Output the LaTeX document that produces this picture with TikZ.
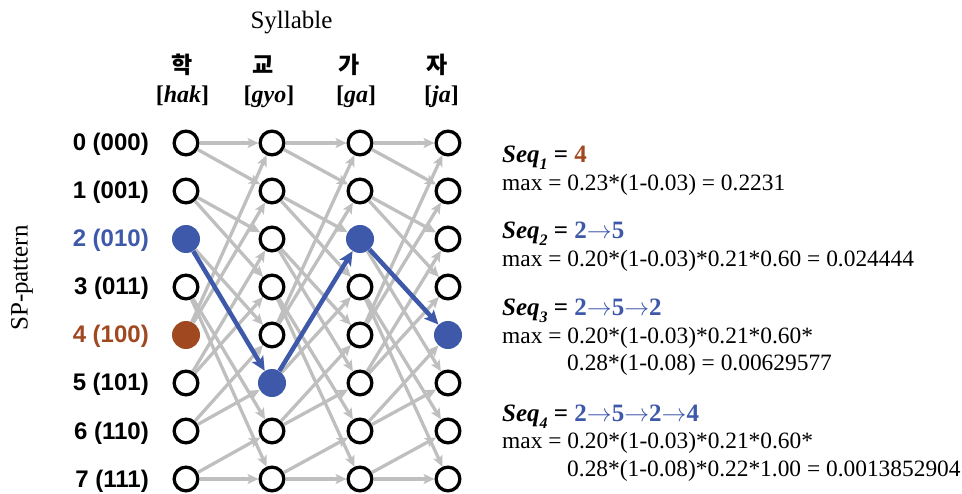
\documentclass[tikz,border=0pt]{standalone}
\usepackage{fontspec}
\setmainfont{Liberation Serif}
\setsansfont{Liberation Sans}
\newfontfamily\krfont{Noto Sans CJK KR}
\usetikzlibrary{arrows.meta}

\definecolor{pathblue}{RGB}{62,88,170}
\definecolor{startbrown}{RGB}{160,72,32}
\definecolor{edgegray}{RGB}{191,191,191}

\newcommand\fs[1]{\fontsize{#1}{#1}\selectfont}
% "Seq_k = ..." heading of each block
\newcommand\seqhead[2]{{\fs{25}\bfseries\itshape Seq\raisebox{-0.28em}{\fs{16}#1}}{\fs{25}\bfseries\ =\ #2}}
\newcommand\nxt{\ensuremath{\rightarrow}}

\tikzset{
  opendot/.style={circle, draw=black, line width=3.3pt, fill=white, minimum size=23.7pt, inner sep=0pt},
  bluedot/.style={circle, fill=pathblue, minimum size=28pt, inner sep=0pt},
  browndot/.style={circle, fill=startbrown, minimum size=28pt, inner sep=0pt},
  grayedge/.style={draw=edgegray, line width=3.3pt, -{Stealth[length=11pt,width=10pt,inset=2.5pt]}},
  blueedge/.style={draw=pathblue, line width=4.5pt, -{Stealth[length=14pt,width=13pt,inset=3pt]}},
  rowlab/.style={anchor=base east, font=\sffamily\bfseries\fs{24}, inner sep=0pt},
  korean/.style={anchor=center, font=\krfont\bfseries\fs{23}, inner sep=0pt},
  roman/.style={anchor=base, font=\fs{24}\bfseries, inner sep=0pt},
  plaintext/.style={anchor=base west, font=\fs{23.4}, inner sep=0pt},
  headtext/.style={anchor=base west, inner sep=0pt},
}

\begin{document}
\begin{tikzpicture}[x=1pt, y=-1pt]
\useasboundingbox (0,0) rectangle (962,494);

% trellis states: column c (syllable), row i (SP-pattern)
\foreach \c/\x in {1/186,2/272,3/360,4/448}{
  \foreach \i in {0,...,7}{
    \pgfmathtruncatemacro\kind{((\c==1&&\i==2)||(\c==2&&\i==5)||(\c==3&&\i==2)||(\c==4&&\i==4)) ? 1 : ((\c==1&&\i==4) ? 2 : 0)}
    \ifcase\kind
      \node[opendot] (n\c\i) at (\x,{143+48*\i}) {};
    \or
      \node[bluedot] (n\c\i) at (\x,{143+48*\i}) {};
    \or
      \node[browndot] (n\c\i) at (\x,{143+48*\i}) {};
    \fi
  }
}

% transitions: pattern b1b2b3 -> b2b3x
\foreach \c/\n in {1/2,2/3,3/4}{
  \foreach \i in {0,...,7}{
    \foreach \k in {0,1}{
      \pgfmathtruncatemacro\t{mod(2*\i+\k,8)}
      \pgfmathtruncatemacro\isblue{(\c==1&&\i==2&&\t==5)||(\c==2&&\i==5&&\t==2)||(\c==3&&\i==2&&\t==4)}
      \ifnum\isblue=0
        \draw[grayedge] (n\c\i) -- (n\n\t);
      \fi
    }
  }
}

% best path 2 -> 5 -> 2 -> 4
\draw[blueedge] (n12) -- (n25);
\draw[blueedge] (n25) -- (n32);
\draw[blueedge] (n32) -- (n44);

% row labels
\node[rowlab] (l0) at (149,151) {0 (000)};
\node[rowlab] (l1) at (149,199) {1 (001)};
\node[rowlab, text=pathblue] (l2) at (149,247) {2 (010)};
\node[rowlab] (l3) at (149,295) {3 (011)};
\node[rowlab, text=startbrown] (l4) at (149,343) {4 (100)};
\node[rowlab] (l5) at (149,391) {5 (101)};
\node[rowlab] (l6) at (149,439) {6 (110)};
\node[rowlab] (l7) at (149,487) {7 (111)};

\node[rotate=90, font=\fs{25}, inner sep=0pt] (sp) at (22,278) {SP-pattern};

% column headers
\node[anchor=base, font=\fs{25}, inner sep=0pt] (syl) at (291.5,29) {Syllable};
\node[korean] (k1) at (182,65) {학};
\node[korean] (k2) at (263,65) {교};
\node[korean] (k3) at (349,65) {가};
\node[korean] (k4) at (437,65) {자};
\node[roman] (r1) at (182.5,103) {[\textit{hak}]};
\node[roman] (r2) at (269,103) {[\textit{gyo}]};
\node[roman] (r3) at (356,103) {[\textit{ga}]};
\node[roman] (r4) at (441.5,103) {[\textit{ja}]};

% scores of the partial sequences
\node[headtext] (s1) at (502,163) {\seqhead{1}{\textcolor{startbrown}{4}}};
\node[plaintext] (m1) at (502,191) {max = 0.23*(1-0.03) = 0.2231};

\node[headtext] (s2) at (502,239) {\seqhead{2}{\textcolor{pathblue}{2\nxt5}}};
\node[plaintext] (m2) at (502,267) {max = 0.20*(1-0.03)*0.21*0.60 = 0.024444};

\node[headtext] (s3) at (502,316) {\seqhead{3}{\textcolor{pathblue}{2\nxt5\nxt2}}};
\node[plaintext] (m3) at (502,344) {max = 0.20*(1-0.03)*0.21*0.60*};
\node[plaintext] (m3b) at (567,371) {0.28*(1-0.08) = 0.00629577};

\node[headtext] (s4) at (502,421) {\seqhead{4}{\textcolor{pathblue}{2\nxt5\nxt2\nxt4}}};
\node[plaintext] (m4) at (502,449) {max = 0.20*(1-0.03)*0.21*0.60*};
\node[plaintext] (m4b) at (567,476) {0.28*(1-0.08)*0.22*1.00 = 0.0013852904};
\end{tikzpicture}
\end{document}
